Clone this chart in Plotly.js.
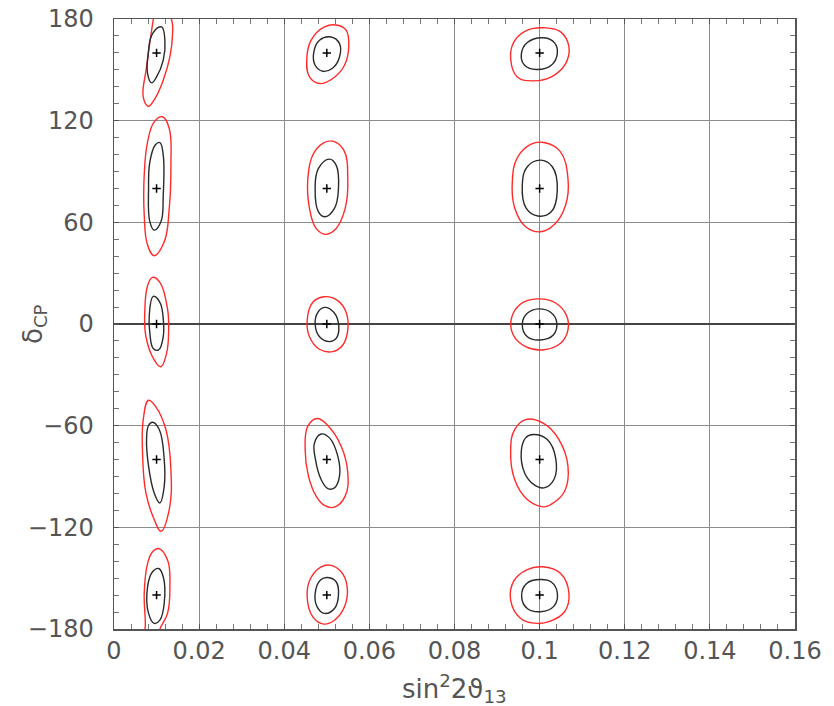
<!DOCTYPE html>
<html>
<head>
<meta charset="utf-8">
<script src="https://cdn.plot.ly/plotly-3.0.1.min.js"></script>
<style>
html,body{margin:0;padding:0;background:#fff;}
#chart{width:834px;height:706px;}
</style>
</head>
<body>
<div id="chart"></div>
<script>
// Best-fit points (sin^2 2theta13, deltaCP)
const centerX = [0.01, 0.01, 0.01, 0.01, 0.01, 0.05, 0.05, 0.05, 0.05, 0.05, 0.1, 0.1, 0.1, 0.1, 0.1];
const centerY = [160, 80, 0, -80, -160, 160, 80, 0, -80, -160, 160, 80, 0, -80, -160];

// Column sin^2 2theta13 = 0.01
const redA_x = [0.0112, 0.01352, 0.01376, 0.01313, 0.01157, 0.00961, 0.00804, 0.00687, 0.00765, 0.00922, 0.0098];
const redA_y = [190, 179.7, 171.4, 157.6, 143.9, 133.0, 128.5, 134.0, 151.7, 179.7, 188];
const blkA_x = [0.01117, 0.01196, 0.01157, 0.0100, 0.00883, 0.00789, 0.00804, 0.00906];
const blkA_y = [175.3, 167.5, 155.7, 145.8, 142.3, 147.8, 159.6, 171.4];

const redB_x = [0.01141, 0.01298, 0.01337, 0.01298, 0.0118, 0.00945, 0.00789, 0.0071, 0.0071, 0.00789, 0.00945];
const redB_y = [122.3, 115.4, 93.8, 68.2, 48.5, 40.3, 46.6, 64.3, 87.9, 107.5, 119.3];
const blkB_x = [0.01078, 0.01157, 0.01157, 0.01102, 0.00945, 0.00843, 0.00812, 0.00843, 0.00969];
const blkB_y = [107.1, 99.7, 76.1, 60.3, 55.4, 60.3, 80, 95.7, 105.6];

const redC_x = [0.00906, 0.01078, 0.01258, 0.01282, 0.01235, 0.01102, 0.00945, 0.0075, 0.00726, 0.00789];
const redC_y = [27.5, 24.6, 8.9, -5.5, -17.3, -25.2, -21.2, -7.5, 8.9, 22.6];
const blkC_x = [0.00922, 0.01078, 0.01157, 0.01157, 0.01047, 0.00922, 0.00843, 0.00828];
const blkC_y = [16.3, 12.8, 3, -7.5, -15.3, -14.4, -5.5, 4.9];

const redD_x = [0.00812, 0.00984, 0.01219, 0.01337, 0.01298, 0.01102, 0.00945, 0.0075, 0.00671, 0.00687];
const redD_y = [-45, -48.9, -62.3, -85.9, -109.5, -122.3, -115.4, -99.7, -76.1, -56.4];
const blkD_x = [0.00906, 0.01063, 0.0118, 0.0118, 0.01078, 0.00945, 0.00812, 0.00765, 0.00812];
const blkD_y = [-58, -62.3, -80, -95.7, -105.6, -99.7, -83.9, -68.2, -59.9];

const redE_x = [0.01047, 0.01258, 0.01313, 0.01258, 0.0108, 0.0102, 0.0085, 0.0069, 0.00734, 0.0071, 0.00789, 0.00906];
const redE_y = [-132.5, -139.3, -155.1, -170.8, -180, -187, -190, -185, -178.7, -159, -141.3, -134.4];
const blkE_x = [0.01047, 0.01157, 0.0118, 0.01078, 0.00945, 0.00812, 0.00789, 0.00906];
const blkE_y = [-144.3, -149.2, -164.9, -174.8, -176.7, -170.8, -155.1, -146.2];

// Column sin^2 2theta13 = 0.05
const redF_x = [0.05258, 0.05454, 0.05517, 0.05415, 0.05141, 0.04828, 0.04593, 0.0453, 0.04632, 0.04945];
const redF_y = [176.3, 173.4, 164.5, 152.7, 144.9, 141.9, 145.8, 156.7, 167.5, 175.3];
const blkF_x = [0.05102, 0.05298, 0.05298, 0.05141, 0.04906, 0.04726, 0.04695, 0.04828];
const blkF_y = [169.4, 165.5, 157.6, 151.1, 149.2, 152.7, 160.6, 167.5];

const redG_x = [0.05141, 0.05399, 0.05493, 0.05431, 0.05219, 0.04961, 0.04749, 0.04593, 0.04554, 0.04671, 0.04906];
const redG_y = [107.9, 102.6, 85.9, 68.2, 56.4, 52.9, 56.4, 68.2, 85.9, 99.7, 106.6];
const blkG_x = [0.05063, 0.05219, 0.05274, 0.0518, 0.04961, 0.04804, 0.04726, 0.04804];
const blkG_y = [97.3, 93.8, 80, 68.2, 63.3, 66.2, 80, 91.8];

const redH_x = [0.04945, 0.05258, 0.05454, 0.05493, 0.05376, 0.05141, 0.04828, 0.04593, 0.04538, 0.04671];
const redH_y = [16.1, 13.8, 6.9, -3.5, -12.4, -16.3, -14.9, -7.5, 2, 12.8];
const blkH_x = [0.04945, 0.05164, 0.05282, 0.05219, 0.05063, 0.04828, 0.04726, 0.04789];
const blkH_y = [9.8, 6.9, -1.6, -8.5, -10.4, -7.5, 0, 6.9];

const redI_x = [0.04773, 0.05023, 0.05337, 0.05493, 0.05431, 0.0518, 0.04945, 0.04749, 0.04569, 0.04491, 0.04554];
const redI_y = [-55.8, -59.9, -72.1, -87.9, -101.6, -108.1, -107.1, -101.6, -89.8, -74.1, -60.3];
const blkI_x = [0.04867, 0.05063, 0.05258, 0.05298, 0.0518, 0.05023, 0.04867, 0.04734, 0.0471];
const blkI_y = [-64.9, -67.2, -78, -89.8, -96.7, -97.1, -91.8, -80, -70.2];

const redJ_x = [0.05063, 0.05337, 0.05478, 0.05415, 0.0518, 0.0493, 0.04671, 0.04538, 0.04616, 0.04867];
const redJ_y = [-142.3, -146.2, -155.1, -166.9, -174.8, -177.1, -172.8, -161, -150.2, -143.3];
const blkJ_x = [0.05023, 0.05219, 0.05274, 0.0518, 0.04945, 0.04773, 0.04726, 0.04851];
const blkJ_y = [-149.6, -152.1, -160, -167.9, -170.8, -166.9, -159, -151.1];

// Column sin^2 2theta13 = 0.1
const redK_x = [0.10102, 0.10493, 0.10689, 0.10611, 0.10298, 0.09867, 0.09475, 0.09319, 0.09397, 0.0971];
const redK_y = [174.8, 172.4, 163.5, 153.7, 146.2, 143.5, 145.8, 156.7, 166.5, 173.4];
const blkK_x = [0.10102, 0.10352, 0.10415, 0.10274, 0.0993, 0.09648, 0.09569, 0.0971];
const blkK_y = [168.9, 165.9, 159.6, 152.7, 150.2, 152.7, 159, 166.1];

const redL_x = [0.10102, 0.10478, 0.10666, 0.10611, 0.10352, 0.10023, 0.09671, 0.09413, 0.09358, 0.09475, 0.09789];
const redL_y = [107.1, 102, 85.9, 70.2, 58.8, 54.4, 57.4, 68.6, 83.9, 98.1, 106];
const blkL_x = [0.10023, 0.10298, 0.10415, 0.10274, 0.09961, 0.09687, 0.09593, 0.0971];
const blkL_y = [96.7, 92.8, 79, 66.2, 63.7, 68.2, 82, 92.8];

const redM_x = [0.09945, 0.10376, 0.10634, 0.10666, 0.10493, 0.10063, 0.09671, 0.09381, 0.09334, 0.09554];
const redM_y = [14.8, 12.4, 4.9, -3.5, -11.4, -15.3, -13.4, -6.5, 3, 11.8];
const blkM_x = [0.09984, 0.10258, 0.10399, 0.10321, 0.10023, 0.0971, 0.09593, 0.0971];
const blkM_y = [8.9, 6.9, 1.4, -6.5, -9.4, -7.5, 0, 6.3];

const redN_x = [0.09671, 0.10102, 0.10454, 0.10666, 0.10587, 0.10258, 0.10086, 0.0971, 0.09413, 0.09319, 0.09413];
const redN_y = [-56.4, -58.8, -68.2, -83.9, -98.7, -106.6, -107.9, -103.6, -91.8, -74.1, -62.3];
const blkN_x = [0.09851, 0.1018, 0.10376, 0.10337, 0.10102, 0.09867, 0.09648, 0.09569, 0.09671];
const blkN_y = [-65.2, -68.2, -79, -91.8, -96.7, -94.8, -87.9, -75.1, -67.2];

const redO_x = [0.10063, 0.10493, 0.10689, 0.10587, 0.10219, 0.09945, 0.09554, 0.09319, 0.09397, 0.0971];
const redO_y = [-143.3, -147.2, -159, -169.8, -175.7, -176.7, -173.8, -163, -151.5, -144.9];
const blkO_x = [0.10023, 0.10274, 0.10415, 0.10337, 0.10023, 0.0971, 0.09577, 0.09695];
const blkO_y = [-150.8, -152.3, -158.6, -166.5, -169.8, -167.9, -160.6, -153.1];

// Axis ticks and titles
const xTickVals = [0, 0.02, 0.04, 0.06, 0.08, 0.1, 0.12, 0.14, 0.16];
const xTickText = ['0', '0.02', '0.04', '0.06', '0.08', '0.1', '0.12', '0.14', '0.16'];
const yTickVals = [-180, -120, -60, 0, 60, 120, 180];
const yTickText = ['\u2212180', '\u2212120', '\u221260', '0', '60', '120', '180'];
const xTitle = 'sin<sup>2</sup>2\u03d1<sub>13</sub>';
const yTitle = '\u03b4<sub>CP</sub>';

const redSets = [[redA_x, redA_y], [redB_x, redB_y], [redC_x, redC_y], [redD_x, redD_y], [redE_x, redE_y],
  [redF_x, redF_y], [redG_x, redG_y], [redH_x, redH_y], [redI_x, redI_y], [redJ_x, redJ_y],
  [redK_x, redK_y], [redL_x, redL_y], [redM_x, redM_y], [redN_x, redN_y], [redO_x, redO_y]];
const blkSets = [[blkA_x, blkA_y], [blkB_x, blkB_y], [blkC_x, blkC_y], [blkD_x, blkD_y], [blkE_x, blkE_y],
  [blkF_x, blkF_y], [blkG_x, blkG_y], [blkH_x, blkH_y], [blkI_x, blkI_y], [blkJ_x, blkJ_y],
  [blkK_x, blkK_y], [blkL_x, blkL_y], [blkM_x, blkM_y], [blkN_x, blkN_y], [blkO_x, blkO_y]];

function closed(a) { return a.concat([a[0]]); }
const traces = [];
redSets.forEach(function (s) {
  traces.push({x: closed(s[0]), y: closed(s[1]), mode: 'lines', type: 'scatter', hoverinfo: 'skip',
    line: {color: '#ff2a2a', width: 1.4, shape: 'spline', smoothing: 1.2}, showlegend: false});
});
blkSets.forEach(function (s) {
  traces.push({x: closed(s[0]), y: closed(s[1]), mode: 'lines', type: 'scatter', hoverinfo: 'skip',
    line: {color: '#2a2a2a', width: 1.4, shape: 'spline', smoothing: 1.2}, showlegend: false});
});
traces.push({x: centerX, y: centerY, mode: 'markers', type: 'scatter', showlegend: false,
  marker: {symbol: 'cross-thin', size: 6, color: '#000', line: {color: '#000', width: 1.5}}});

const axisFont = {family: 'DejaVu Sans, sans-serif', size: 24, color: '#555'};
const titleFont = {family: 'DejaVu Sans, sans-serif', size: 26, color: '#555'};
const layout = {
  width: 834, height: 706,
  margin: {l: 114, r: 39, t: 19, b: 77},
  paper_bgcolor: '#fff', plot_bgcolor: '#fff',
  showlegend: false,
  xaxis: {
    range: [0, 0.16], tickmode: 'array', tickvals: xTickVals, ticktext: xTickText,
    showgrid: true, gridcolor: '#8c8c8c', gridwidth: 1, zeroline: false,
    showline: true, linecolor: '#555', linewidth: 1.5, mirror: 'allticks',
    ticks: 'inside', ticklen: 5, tickcolor: '#555', tickfont: axisFont, ticklabelstandoff: 0,
    minor: {dtick: 0.004, tick0: 0, ticks: 'inside', ticklen: 5, tickcolor: '#777', showgrid: false}
  },
  yaxis: {
    range: [-180, 180], tickmode: 'array', tickvals: yTickVals, ticktext: yTickText,
    showgrid: true, gridcolor: '#8c8c8c', gridwidth: 1, zeroline: true, zerolinecolor: '#444', zerolinewidth: 1.2,
    showline: true, linecolor: '#555', linewidth: 1.5, mirror: 'allticks',
    ticks: 'inside', ticklen: 5, tickcolor: '#555', tickfont: axisFont, ticklabelstandoff: 14,
    minor: {dtick: 10, tick0: 0, ticks: 'inside', ticklen: 5, tickcolor: '#777', showgrid: false}
  },
  annotations: [
    {text: xTitle, xref: 'paper', yref: 'paper', x: 0.5, y: 0, xanchor: 'center', yanchor: 'middle',
     yshift: -59, showarrow: false, font: titleFont},
    {text: yTitle, xref: 'paper', yref: 'paper', x: 0, y: 0.5, xanchor: 'center', yanchor: 'middle',
     xshift: -80, textangle: -90, showarrow: false, font: titleFont}
  ]
};
Plotly.newPlot('chart', traces, layout, {staticPlot: true});
</script>
</body>
</html>
